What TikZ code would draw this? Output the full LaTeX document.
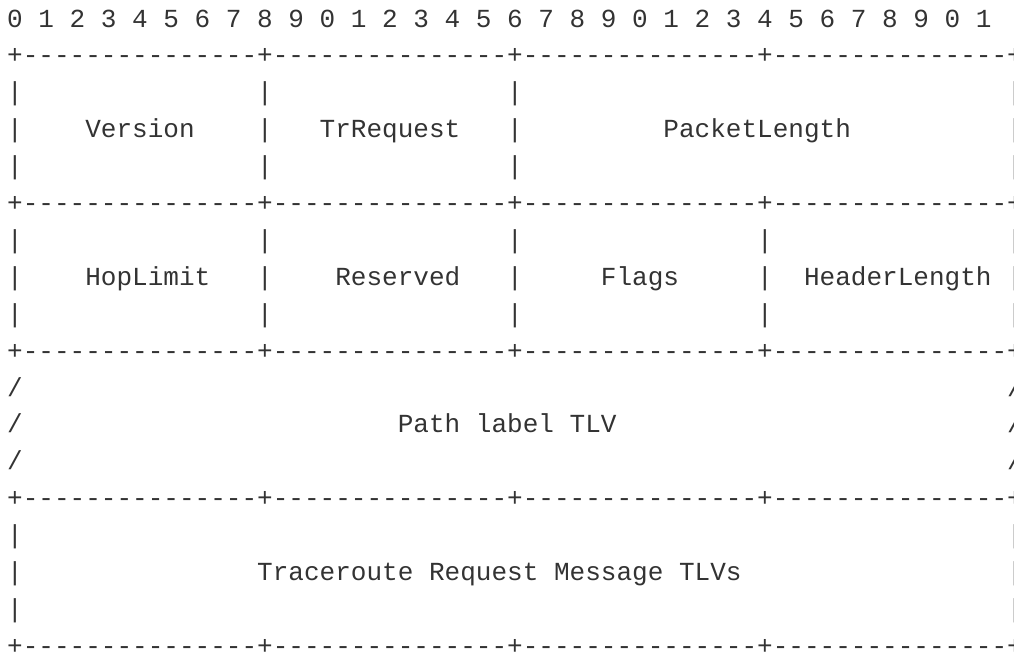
\documentclass[tikz,border=0pt]{standalone}
\usepackage{fontspec}
\setmonofont{Liberation Mono}
\definecolor{ink}{HTML}{333333}
\newcommand\SP[1]{\hspace*{#1\dimexpr0.6em\relax}}
\newcommand\plusline{+---------------+---------------+---------------+---------------+}
\tikzset{row/.style={anchor=base west, inner sep=0pt, outer sep=0pt, text=ink,
  font=\ttfamily\fontsize{19.53pt}{19.53pt}\selectfont}}
\begin{document}
\begin{tikzpicture}[x=0.75pt,y=-0.75pt]
\useasboundingbox (0,0) rectangle (1014,654);
\node[row] (l1)  at (7.2,27)    {0 1 2 3 4 5 6 7 8 9 0 1 2 3 4 5 6 7 8 9 0 1 2 3 4 5 6 7 8 9 0 1};
\node[row] (l2)  at (7.2,63.9)  {\plusline};
\node[row] (l3)  at (7.2,100.8) {|\SP{15}|\SP{15}|\SP{31}|};
\node[row] (l4)  at (7.2,137.7) {|\SP{4}Version\SP{4}|\SP{3}TrRequest\SP{3}|\SP{9}PacketLength\SP{10}|};
\node[row] (l5)  at (7.2,174.6) {|\SP{15}|\SP{15}|\SP{31}|};
\node[row] (l6)  at (7.2,211.5) {\plusline};
\node[row] (l7)  at (7.2,248.4) {|\SP{15}|\SP{15}|\SP{15}|\SP{15}|};
\node[row] (l8)  at (7.2,285.3) {|\SP{4}HopLimit\SP{3}|\SP{4}Reserved\SP{3}|\SP{5}Flags\SP{5}|\SP{2}HeaderLength\SP{1}|};
\node[row] (l9)  at (7.2,322.2) {|\SP{15}|\SP{15}|\SP{15}|\SP{15}|};
\node[row] (l10) at (7.2,359.1) {\plusline};
\node[row] (l11) at (7.2,396)   {/\SP{63}/};
\node[row] (l12) at (7.2,432.9) {/\SP{24}Path label TLV\SP{25}/};
\node[row] (l13) at (7.2,469.8) {/\SP{63}/};
\node[row] (l14) at (7.2,506.7) {\plusline};
\node[row] (l15) at (7.2,543.6) {|\SP{63}|};
\node[row] (l16) at (7.2,580.5) {|\SP{15}Traceroute Request Message TLVs\SP{17}|};
\node[row] (l17) at (7.2,617.4) {|\SP{63}|};
\node[row] (l18) at (7.2,654.3) {\plusline};
\end{tikzpicture}
\end{document}
